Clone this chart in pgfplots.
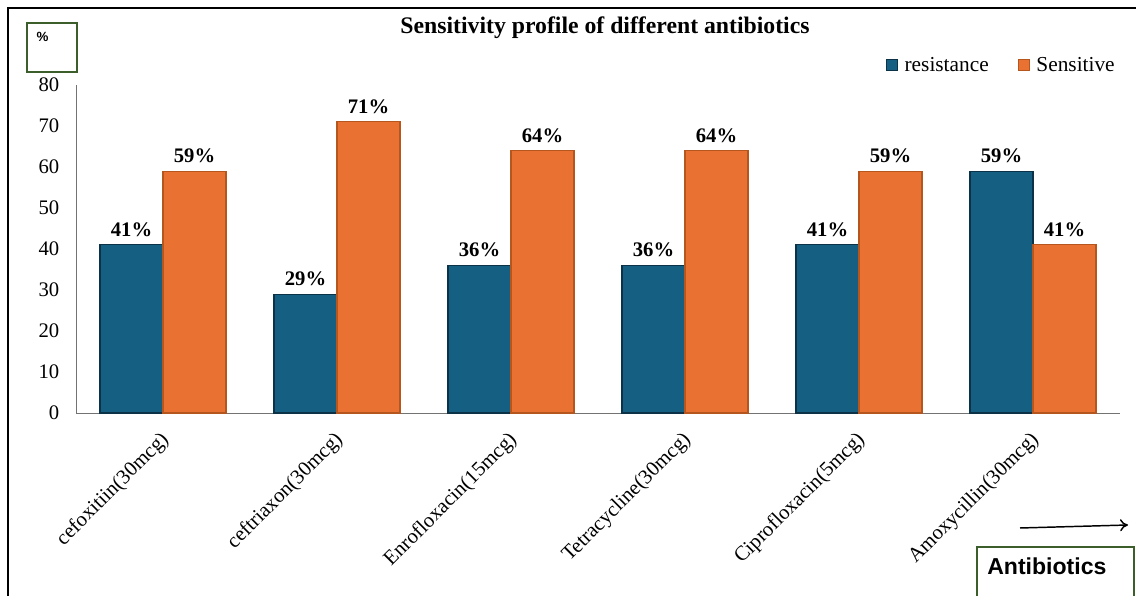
\documentclass[border=0pt]{standalone}
\usepackage{pgfplots}
\pgfplotsset{compat=1.18}
\usepackage{fontspec}
\setmainfont{Liberation Serif}
\newfontfamily\arial{Liberation Sans}
\usetikzlibrary{arrows.meta}
\definecolor{cblue}{HTML}{156082}
\definecolor{cblueb}{HTML}{0B3247}
\definecolor{corange}{HTML}{E97132}
\definecolor{coranb}{HTML}{B5561F}
\definecolor{cgreen}{HTML}{3B5E2B}
\begin{document}
\begin{tikzpicture}
\useasboundingbox (0,0) rectangle (852pt,447pt);
% frame
\draw[line width=1.6pt] (6pt,0) -- (6pt,441pt) -- (852pt,441pt);
\begin{axis}[
  at={(57pt,137.25pt)}, anchor=south west,
  scale only axis, width=783pt, height=246pt,
  ybar=0pt, bar width=47.25pt,
  xmin=-0.5, xmax=5.5, ymin=0, ymax=80,
  ytick={0,10,...,80},
  xtick={0,1,2,3,4,5},
  xticklabels={cefoxitiin(30mcg),ceftriaxon(30mcg),Enrofloxacin(15mcg),Tetracycline(30mcg),Ciprofloxacin(5mcg),Amoxycillin(30mcg)},
  axis x line*=bottom, axis y line*=left,
  axis line style={draw=black!55, line width=0.7pt, -},
  major tick length=0pt,
  /pgf/number format/assume math mode=true,
  tick label style={font=\fontsize{15.5}{18}\selectfont},
  yticklabel style={xshift=-9pt},
  xticklabel style={xshift=-3pt, yshift=-8pt, rotate=45, anchor=north east},
  nodes near coords={\pgfmathprintnumber{\pgfplotspointmeta}\%},
  nodes near coords style={font=\fontsize{15.5}{18}\selectfont\bfseries, yshift=2.5pt},
  legend style={at={(axis description cs:0.772,1.061)}, anchor=west, draw=none, fill=none,
    font=\fontsize{16}{19}\selectfont, legend columns=2,
    /tikz/every odd column/.append style={column sep=3pt},
    /tikz/every even column/.append style={column sep=20pt}},
  legend image code/.code={\draw[#1] (0pt,-4pt) rectangle (8pt,4pt);},
  clip=false,
]
\addplot[fill=cblue, draw=cblueb, line width=0.8pt] coordinates {(0,41) (1,29) (2,36) (3,36) (4,41) (5,59)};
\addplot[fill=corange, draw=coranb, line width=0.8pt] coordinates {(0,59) (1,71) (2,64) (3,64) (4,59) (5,41)};
\legend{resistance, Sensitive}
\end{axis}
% title
\node[font=\fontsize{17.8}{20}\selectfont\bfseries] at (453.75pt,426pt) {Sensitivity profile of different antibiotics};
% percent box
\draw[cgreen, line width=1.3pt] (20.25pt,393pt) rectangle (57.75pt,429.75pt);
\node[font=\arial\fontsize{10}{12}\selectfont\bfseries] at (32pt,419.25pt) {\%};
% antibiotics box
\draw[cgreen, line width=1.3pt] (732.75pt,-3pt) rectangle (850.5pt,36.75pt);
\node[anchor=west, font=\arial\fontsize{17.3}{20}\selectfont\bfseries, inner sep=0pt] at (740.25pt,22.5pt) {Antibiotics};
\draw[line width=1.1pt, -{To[length=6pt,width=9pt]}] (765pt,51pt) -- (846pt,53.25pt);
\end{tikzpicture}
\end{document}
